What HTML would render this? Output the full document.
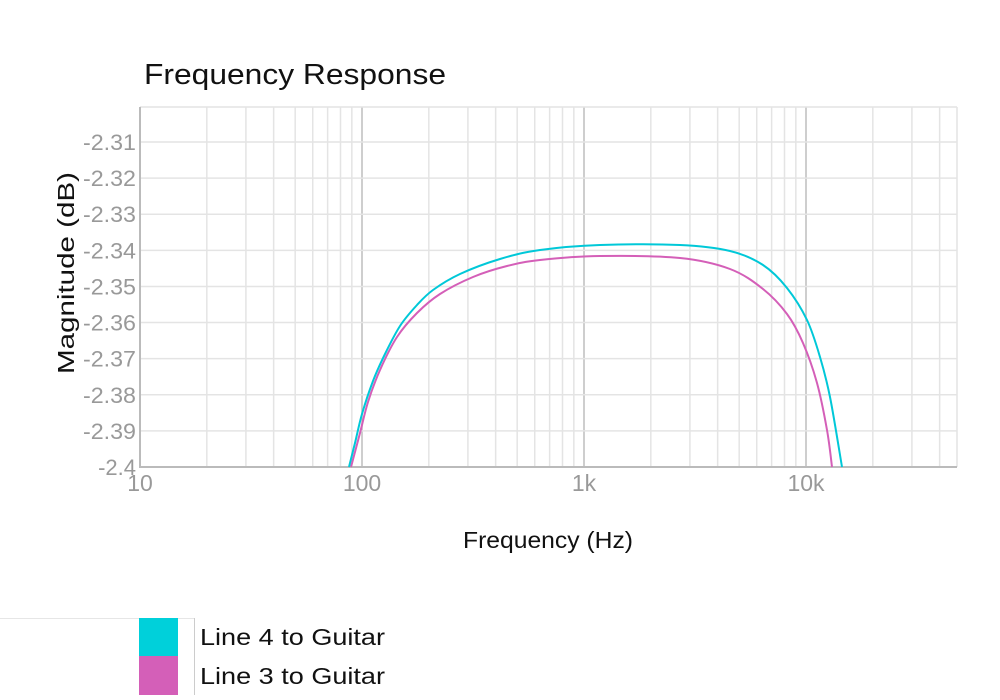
<!DOCTYPE html>
<html><head><meta charset="utf-8"><style>
body{margin:0;background:#fff;width:1000px;height:695px;overflow:hidden;font-family:"Liberation Sans",sans-serif;}
</style></head><body>
<svg id="s" width="1000" height="695" xmlns="http://www.w3.org/2000/svg" font-family="Liberation Sans, sans-serif">
<text x="144" y="84" font-size="29" fill="#111" textLength="302" lengthAdjust="spacingAndGlyphs">Frequency Response</text>
<g id="grid"></g>
<g id="curves"></g>
<text transform="translate(74,273) rotate(-90)" text-anchor="middle" font-size="23" fill="#111" textLength="202" lengthAdjust="spacingAndGlyphs">Magnitude (dB)</text>
<text x="463" y="548" font-size="23" fill="#111" textLength="170" lengthAdjust="spacingAndGlyphs">Frequency (Hz)</text>
<line x1="0" y1="618.5" x2="194" y2="618.5" stroke="#e6e6e6"/>
<line x1="194.5" y1="618" x2="194.5" y2="695" stroke="#ccc"/>
<rect x="139" y="618" width="39" height="38" fill="#00d0da"/>
<rect x="139" y="656" width="39" height="39" fill="#d45fb8"/>
<text x="200" y="645" font-size="23" fill="#111" textLength="185" lengthAdjust="spacingAndGlyphs">Line 4 to Guitar</text>
<text x="200" y="684" font-size="23" fill="#111" textLength="185" lengthAdjust="spacingAndGlyphs">Line 3 to Guitar</text>
</svg>
<script>
var L=140,R=957,T=107,B=467;
function X(f){return 140+222*(Math.log10(f)-1);}
function Y(v){return 467-(v+2.4)*3611;}
var g='';
for(var d=10;d<=10000;d*=10)for(var k=1;k<10;k++){var f=d*k;var x=X(f);if(x>R||x<=L+1)continue;
 g+='<line x1="'+x+'" y1="'+T+'" x2="'+x+'" y2="'+B+'" stroke="'+(k==1?'#bdbdbd':'#e4e4e4')+'" stroke-width="1.5"/>';}
for(var i=1;i<=9;i++){var v=-2.4+i*0.01;var y=Y(v);
 g+='<line x1="'+L+'" y1="'+y+'" x2="'+R+'" y2="'+y+'" stroke="#e4e4e4" stroke-width="1.5"/>';
 g+='<text x="136" y="'+(y+8)+'" text-anchor="end" font-size="22" fill="#999" textLength="53" lengthAdjust="spacingAndGlyphs">'+v.toFixed(2)+'</text>';}
g+='<text x="136" y="475" text-anchor="end" font-size="22" fill="#999">-2.4</text>';
g+='<line x1="'+L+'" y1="'+T+'" x2="'+R+'" y2="'+T+'" stroke="#e4e4e4" stroke-width="1.5"/>';
g+='<line x1="'+R+'" y1="'+T+'" x2="'+R+'" y2="'+B+'" stroke="#e4e4e4" stroke-width="1.5"/>';
g+='<line x1="'+L+'" y1="'+T+'" x2="'+L+'" y2="'+(B+1)+'" stroke="#bbb" stroke-width="2"/>';
g+='<line x1="'+L+'" y1="'+B+'" x2="'+R+'" y2="'+B+'" stroke="#bbb" stroke-width="2"/>';
[['10',140],['100',362],['1k',584],['10k',806]].forEach(function(a){g+='<text x="'+a[1]+'" y="491" text-anchor="middle" font-size="23" fill="#999">'+a[0]+'</text>';});
document.getElementById('grid').innerHTML=g;
function cr(p,col){var s='M'+p[0][0]+','+p[0][1];
 for(var i=0;i<p.length-1;i++){var p0=p[i-1]||p[i],p1=p[i],p2=p[i+1],p3=p[i+2]||p2;
  s+=' C'+(p1[0]+(p2[0]-p0[0])/6).toFixed(1)+','+(p1[1]+(p2[1]-p0[1])/6).toFixed(1)+' '+(p2[0]-(p3[0]-p1[0])/6).toFixed(1)+','+(p2[1]-(p3[1]-p1[1])/6).toFixed(1)+' '+p2[0]+','+p2[1];}
 return '<path d="'+s+'" fill="none" stroke="'+col+'" stroke-width="2"/>';}
var cy=[[349,467],[355,443],[362,414],[373,381],[385,354],[400,326],[417,305],[433,290],[460,274],[500,259],[540,250],[600,245],[680,245],[730,251],[763,265],[787,288],[807,320],[820,357],[830,397],[842,467]];
var mg=[[351,467],[360,433],[368,402],[380,370],[397,337],[417,313],[440,294],[473,277],[507,266],[540,260],[600,256],[680,258],[730,269],[763,289],[787,314],[803,343],[817,383],[827,430],[832,467]];
document.getElementById('curves').innerHTML=cr(mg,'#d45fb8')+cr(cy,'#00c8d8');
</script>
</body></html>
